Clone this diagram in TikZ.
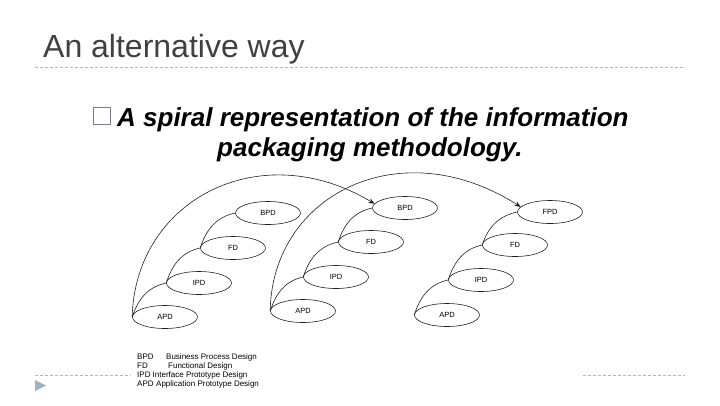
\documentclass[tikz,border=0pt]{standalone}
\usepackage{fontspec}
\setmainfont{Liberation Sans}
\usetikzlibrary{shapes.geometric,arrows.meta}
\definecolor{titlegray}{HTML}{404040}
\definecolor{rulegray}{HTML}{B4B4B4}
\definecolor{bulletblue}{HTML}{9DB2C8}
\definecolor{boxgray}{HTML}{7A7F90}
\definecolor{inkc}{HTML}{202020}
\tikzset{
  phase/.style={draw=inkc, line width=0.6pt, ellipse, minimum width=65pt, minimum height=23pt, inner sep=0pt, font=\fontsize{7.5}{8}\selectfont},
  link/.style={draw=inkc, line width=0.6pt},
  jump/.style={draw=inkc, line width=0.6pt, -{Stealth[length=6pt,width=5pt]}},
  rule/.style={draw=rulegray, line width=0.7pt, dash pattern=on 3pt off 2pt},
  legend/.style={anchor=base west, inner sep=0pt, font=\fontsize{8}{9}\selectfont}
}
\begin{document}
\begin{tikzpicture}[x=1pt,y=-1pt]
\useasboundingbox (0,0) rectangle (720,405);
% title
\node[anchor=base west, inner sep=0pt, text=titlegray, font=\fontsize{32}{36}\selectfont] (title) at (43,57) {An alternative way};
\coordinate (r1a) at (35,67.5);
\coordinate (r1b) at (685,67.5);
\draw[rule] (r1a) -- (r1b);
% subtitle
\node[draw=boxgray, line width=1.1pt, minimum size=17pt, inner sep=0pt] (box) at (102,116) {};
\node[anchor=base west, inner sep=0pt, font=\fontsize{26}{30}\selectfont\bfseries\itshape] (sub1) at (117,126) {A spiral representation of the information};
\node[anchor=base west, inner sep=0pt, font=\fontsize{26}{30}\selectfont\bfseries\itshape] (sub2) at (217,156) {packaging methodology.};
% group 1
\node[phase] (apd1) at (165,317) {APD};
\node[phase] (ipd1) at (199,283) {IPD};
\node[phase] (fd1)  at (233,248) {FD};
\node[phase] (bpd1) at (268,213) {BPD};
% group 2
\node[phase] (apd2) at (303,311) {APD};
\node[phase] (ipd2) at (336,277) {IPD};
\node[phase] (fd2)  at (371,242) {FD};
\node[phase] (bpd2) at (405,208) {BPD};
% group 3
\node[phase] (apd3) at (447,315) {APD};
\node[phase] (ipd3) at (481,280) {IPD};
\node[phase] (fd3)  at (515,245) {FD};
\node[phase] (fpd3) at (550,212) {FPD};
% small links
\foreach \a/\b in {apd1/ipd1,ipd1/fd1,fd1/bpd1,apd2/ipd2,ipd2/fd2,fd2/bpd2,apd3/ipd3,ipd3/fd3,fd3/fpd3}
  \draw[link] (\a.west) to[out=72,in=192] (\b.west);
% big arcs
\draw[jump] (apd1.west) .. controls (135,200) and (260,135) .. (bpd2.172);
\draw[jump] (apd2.west) .. controls (272,195) and (400,130) .. (fpd3.170);
% legend
\node[legend] (l1a) at (137,359) {BPD};
\node[legend] (l1b) at (166,359) {Business Process Design};
\node[legend] (l2a) at (137,368) {FD};
\node[legend] (l2b) at (168,368) {Functional Design};
\node[legend] (l3a) at (137,377) {IPD};
\node[legend] (l3b) at (152.5,377) {Interface Prototype Design};
\node[legend] (l4a) at (137,386) {APD};
\node[legend] (l4b) at (156,386) {Application Prototype Design};
% bottom rules and bullet
\coordinate (r2a) at (35,375.5);
\coordinate (r2b) at (131,375.5);
\coordinate (r3a) at (583,375.5);
\coordinate (r3b) at (685,375.5);
\draw[rule] (r2a) -- (r2b);
\draw[rule] (r3a) -- (r3b);
\fill[bulletblue] (35,380) -- (46,385.5) -- (35,391) -- cycle;
\end{tikzpicture}
\end{document}
